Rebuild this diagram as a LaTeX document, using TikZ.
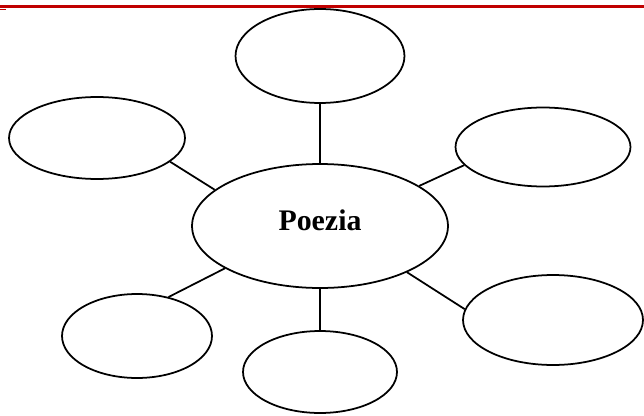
\documentclass[tikz,border=0pt]{standalone}
\usepackage{fontspec}
\setmainfont{Liberation Serif}
\usepackage{xcolor}
\usepackage{tikz}
\usetikzlibrary{shapes.geometric}
\definecolor{rulered}{RGB}{192, 0, 0}

\begin{document}
\begin{tikzpicture}[x=0.02cm, y=-0.02cm,
  bubble/.style={draw, ellipse, line width=1pt, inner sep=0pt}]
\useasboundingbox (0,0) rectangle (644,415);
% Red rule at the top
\draw[rulered, line width=1.2pt] (0,6.5) -- (644,6.5);
\fill[rulered] (0,8.8) rectangle (6,10.2);

% Central bubble
\node[bubble, minimum width=5.12cm, minimum height=2.48cm] (poezia) at (320,226)
  {\raisebox{0.11cm}[\height][\depth]{\fontsize{17}{20}\selectfont\bfseries Poezia}};

% Empty bubbles around it
\node[bubble, minimum width=3.38cm, minimum height=1.88cm] (top) at (320,56) {};
\node[bubble, minimum width=3.52cm, minimum height=1.64cm] (lefttop) at (97,138) {};
\node[bubble, minimum width=3.5cm, minimum height=1.58cm] (righttop) at (543,147) {};
\node[bubble, minimum width=3.0cm, minimum height=1.68cm] (leftbot) at (137,336) {};
\node[bubble, minimum width=3.08cm, minimum height=1.64cm] (bottom) at (320,372) {};
\node[bubble, minimum width=3.6cm, minimum height=1.8cm] (rightbot) at (553,320) {};

% Spokes
\draw[line width=1pt] (poezia.north) -- (top.south);
\draw[line width=1pt] (poezia.161) -- (lefttop.-18);
\draw[line width=1pt] (poezia.22) -- (righttop.-167);
\draw[line width=1pt] (poezia.204) -- (leftbot.51);
\draw[line width=1pt] (poezia.south) -- (bottom.north);
\draw[line width=1pt] (poezia.-28) -- (rightbot.173);
\end{tikzpicture}
\end{document}
